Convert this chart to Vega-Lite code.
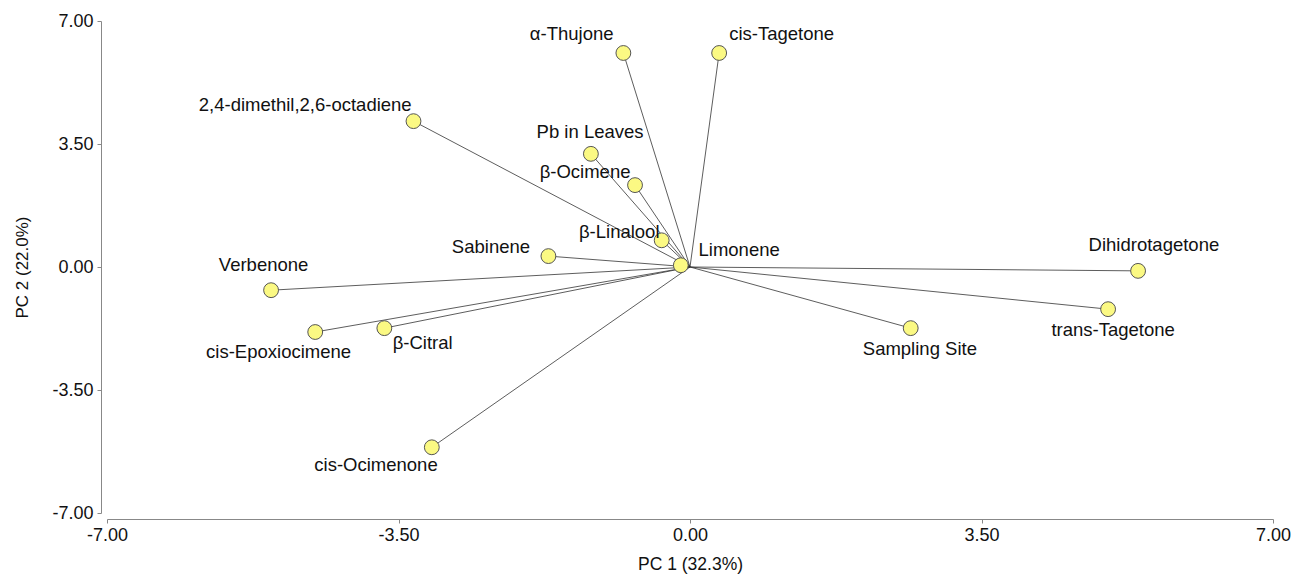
{
  "$schema": "https://vega.github.io/schema/vega-lite/v6.json",
  "width": 1166,
  "height": 492,
  "autosize": "none",
  "padding": {"left": 107, "top": 21, "right": 30, "bottom": 66},
  "background": "white",
  "config": {"view": {"stroke": null}, "font": "Liberation Sans"},
  "data": {
    "values": [
      {"name": "α-Thujone", "pc1": -0.80, "pc2": 6.09, "lx": -1.42, "ly": 6.62},
      {"name": "cis-Tagetone", "pc1": 0.35, "pc2": 6.09, "lx": 1.10, "ly": 6.62},
      {"name": "2,4-dimethil,2,6-octadiene", "pc1": -3.32, "pc2": 4.15, "lx": -4.62, "ly": 4.62},
      {"name": "Pb in Leaves", "pc1": -1.19, "pc2": 3.22, "lx": -1.20, "ly": 3.85},
      {"name": "β-Ocimene", "pc1": -0.66, "pc2": 2.33, "lx": -1.26, "ly": 2.70},
      {"name": "β-Linalool", "pc1": -0.34, "pc2": 0.76, "lx": -0.85, "ly": 1.00},
      {"name": "Limonene", "pc1": -0.11, "pc2": 0.05, "lx": 0.59, "ly": 0.48},
      {"name": "Sabinene", "pc1": -1.70, "pc2": 0.31, "lx": -2.39, "ly": 0.57},
      {"name": "Verbenone", "pc1": -5.03, "pc2": -0.66, "lx": -5.12, "ly": 0.05},
      {"name": "cis-Epoxiocimene", "pc1": -4.50, "pc2": -1.85, "lx": -4.94, "ly": -2.42},
      {"name": "β-Citral", "pc1": -3.67, "pc2": -1.74, "lx": -3.21, "ly": -2.16},
      {"name": "cis-Ocimenone", "pc1": -3.10, "pc2": -5.13, "lx": -3.77, "ly": -5.64},
      {"name": "Sampling Site", "pc1": 2.65, "pc2": -1.74, "lx": 2.76, "ly": -2.34},
      {"name": "trans-Tagetone", "pc1": 5.02, "pc2": -1.20, "lx": 5.08, "ly": -1.79},
      {"name": "Dihidrotagetone", "pc1": 5.38, "pc2": -0.11, "lx": 5.57, "ly": 0.62}
    ]
  },
  "encoding": {
    "x": {
      "field": "pc1", "type": "quantitative",
      "scale": {"domain": [-7, 7], "nice": false, "zero": false},
      "axis": {
        "title": "PC 1 (32.3%)", "values": [-7, -3.5, 0, 3.5, 7],
        "labelExpr": "replace(format(datum.value, '.2f'), '\u2212', '-')",
        "grid": false, "offset": 6, "domainColor": "#888", "tickColor": "#888",
        "tickSize": 4, "labelPadding": 3, "labelFontSize": 18, "labelColor": "#111",
        "labelFlush": false, "labelOverlap": false,
        "titleFontSize": 17.5, "titleFontWeight": "normal", "titleColor": "#111", "titlePadding": 11
      }
    },
    "y": {
      "field": "pc2", "type": "quantitative",
      "scale": {"domain": [-7, 7], "nice": false, "zero": false},
      "axis": {
        "title": "PC 2 (22.0%)", "values": [-7, -3.5, 0, 3.5, 7],
        "labelExpr": "replace(format(datum.value, '.2f'), '\u2212', '-')",
        "grid": false, "offset": 6, "domainColor": "#888", "tickColor": "#888",
        "tickSize": 4, "labelPadding": 4, "labelFontSize": 18, "labelColor": "#111",
        "labelFlush": false, "labelOverlap": false,
        "titleFontSize": 17, "titleFontWeight": "normal", "titleColor": "#111", "titlePadding": 20
      }
    }
  },
  "layer": [
    {
      "mark": {"type": "rule", "stroke": "#333", "strokeWidth": 0.8},
      "encoding": {"x2": {"datum": 0}, "y2": {"datum": 0}}
    },
    {
      "mark": {"type": "point", "shape": "circle", "filled": true, "fill": "#fbf983", "stroke": "#555", "strokeWidth": 1, "size": 220, "opacity": 1}
    },
    {
      "mark": {"type": "text", "fontSize": 18.5, "color": "#111", "baseline": "middle", "align": "center"},
      "encoding": {
        "x": {"field": "lx", "type": "quantitative"},
        "y": {"field": "ly", "type": "quantitative"},
        "text": {"field": "name"}
      }
    }
  ]
}
